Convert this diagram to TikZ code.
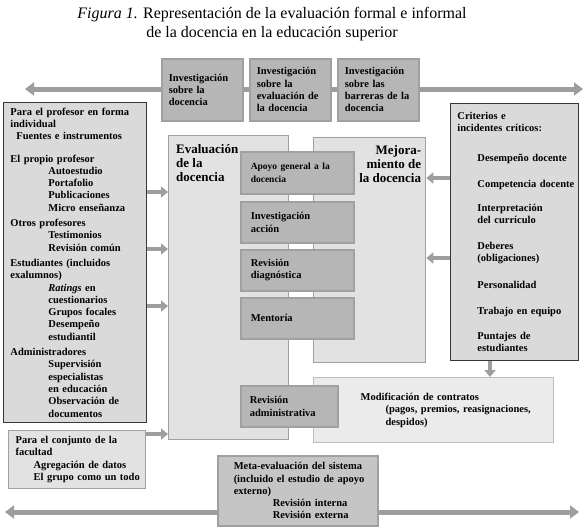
\documentclass[tikz,border=0pt]{standalone}
\usepackage{fontspec}
\setmainfont{Liberation Serif}
\usetikzlibrary{arrows.meta,positioning,calc}
\definecolor{palefill}{RGB}{226,226,226}
\definecolor{listfill}{RGB}{218,218,218}
\definecolor{midfill}{RGB}{182,182,182}
\definecolor{rim}{RGB}{160,160,160}
\definecolor{darkrim}{RGB}{55,55,55}
\definecolor{flowgray}{RGB}{158,158,158}
\newcommand{\indsub}{\hspace*{38pt}}
\newcommand{\indcrit}{\hspace*{20pt}}
\tikzset{
  boxtext/.style={font=\bfseries\fontsize{10.5}{12.3}\selectfont,align=left},
  frame/.style={boxtext,anchor=north west,inner xsep=7pt,inner ysep=2pt},
  listbox/.style={frame,draw=darkrim,fill=listfill,line width=0.9pt},
  panel/.style={frame,draw=rim,fill=palefill,line width=1.3pt},
  stepbox/.style={frame,draw=rim,fill=midfill,line width=1.5pt},
  flow/.style={flowgray,line width=4pt,-{Triangle[length=7pt,width=11pt]}},
  bigflow/.style={flowgray,line width=5pt,{Triangle[length=9pt,width=13pt]}-{Triangle[length=9pt,width=13pt]}},
  heading/.style={font=\bfseries\fontsize{13}{14}\selectfont,inner sep=0pt},
}

\begin{document}
\begin{tikzpicture}[x=1pt,y=-1pt]
  \useasboundingbox (0,0) rectangle (586,530);
  \node[font=\fontsize{16}{19}\selectfont,align=center] (title) at (272,24)
    {\textit{Figura 1.} Representación de la evaluación formal e informal\\de la docencia en la educación superior};

  % research strip on top
  \coordinate (topl) at (25,89);
  \coordinate (topr) at (583,89);
  \draw[bigflow] (topl) -- (topr);
  \node[stepbox,minimum width=81pt,minimum height=62pt,text width=67pt] (invdoc) at (161,58)
    {Investigación\\sobre la\\docencia};
  \node[stepbox,minimum width=81pt,minimum height=62pt,text width=67pt] (inveval) at (249,58)
    {Investigación\\sobre la\\evaluación de\\la docencia};
  \node[stepbox,minimum width=81pt,minimum height=62pt,text width=67pt] (invbarr) at (337,58)
    {Investigación\\sobre las\\barreras de la\\docencia};

  % meta-evaluation strip at the bottom
  \coordinate (botl) at (5,512);
  \coordinate (botr) at (579,512);
  \draw[bigflow] (botl) -- (botr);
  \node[stepbox,fill=midfill!80!white,minimum width=160pt,minimum height=70pt,text width=146pt] (meta) at (217,455)
    {\hspace*{9pt}\mbox{Meta-evaluación del sistema}\\
     \hspace*{9pt}\mbox{(incluido el estudio de apoyo}\\
     \hspace*{9pt}externo)\\
     \hspace*{48pt}Revisión interna\\
     \hspace*{48pt}Revisión externa};

  % sources
  \node[listbox,minimum width=143pt,minimum height=320pt,text width=129pt] (indiv) at (3,102)
    {\mbox{Para el profesor en forma}\\
     individual\\
     \hspace*{6pt}\mbox{Fuentes e instrumentos}\\[10pt]
     El propio profesor\\
     \indsub Autoestudio\\
     \indsub Portafolio\\
     \indsub Publicaciones\\
     \indsub\mbox{Micro enseñanza}\\[3pt]
     Otros profesores\\
     \indsub Testimonios\\
     \indsub\mbox{Revisión común}\\[3pt]
     \mbox{Estudiantes (incluidos}\\
     exalumnos)\\
     \indsub{\itshape Ratings} en\\
     \indsub cuestionarios\\
     \indsub\mbox{Grupos focales}\\
     \indsub Desempeño\\
     \indsub estudiantil\\[3pt]
     Administradores\\
     \indsub Supervisión\\
     \indsub especialistas\\
     \indsub\mbox{en educación}\\
     \indsub\mbox{Observación de}\\
     \indsub documentos};
  \node[panel,minimum width=137pt,minimum height=58pt,text width=123pt] (conj) at (8,430)
    {\mbox{Para el conjunto de la}\\
     facultad\\
     \hspace*{18pt}\mbox{Agregación de datos}\\
     \hspace*{18pt}\mbox{El grupo como un todo}};
  \node[listbox,minimum width=128pt,minimum height=257pt,text width=114pt] (crit) at (450,103)
    {Criterios e\\
     \mbox{incidentes críticos:}\\[18pt]
     \indcrit\mbox{Desempeño docente}\\[13pt]
     \indcrit\mbox{Competencia docente}\\[12pt]
     \indcrit Interpretación\\
     \indcrit\mbox{del currículo}\\[13pt]
     \indcrit Deberes\\
     \indcrit (obligaciones)\\[15pt]
     \indcrit Personalidad\\[13pt]
     \indcrit\mbox{Trabajo en equipo}\\[13pt]
     \indcrit\mbox{Puntajes de}\\
     \indcrit estudiantes};

  % the two main panels
  \node[panel,minimum width=120pt,minimum height=304pt] (eval) at (168,135) {};
  \node[panel,minimum width=112pt,minimum height=225pt] (mej) at (313,137) {};
  \node[panel,fill=palefill!70!white,draw=rim!70!white,minimum width=240pt,minimum height=65pt,text width=226pt] (modif) at (313,377)
    {\hspace*{40pt}\mbox{Modificación de contratos}\\
     \hspace*{65pt}\mbox{(pagos, premios, reasignaciones,}\\
     \hspace*{65pt}despidos)};
  \node[heading,anchor=north west,align=left] (evaltitle) at ([shift={(8pt,-9pt)}]eval.north west)
    {Evaluación\\de la\\docencia};
  \node[heading,anchor=north east,align=right] (mejtitle) at ([shift={(-5pt,-8pt)}]mej.north east)
    {Mejora-\\miento de\\la docencia};

  % shared activities
  \node[stepbox,minimum width=113pt,minimum height=42pt,text width=99pt] (apoyo) at (240,151)
    {\fontsize{9.5}{10.5}\selectfont\hspace*{3pt}\mbox{Apoyo general a la}\\\hspace*{3pt}docencia};
  \node[stepbox,minimum width=113pt,minimum height=41pt,text width=99pt] (accion) at (240,201)
    {\hspace*{3pt}Investigación\\\hspace*{3pt}acción};
  \node[stepbox,minimum width=113pt,minimum height=41pt,text width=99pt] (diag) at (240,249)
    {\hspace*{3pt}Revisión\\\hspace*{3pt}diagnóstica};
  \node[stepbox,minimum width=113pt,minimum height=41pt,text width=99pt] (mentor) at (240,297)
    {\hspace*{3pt}Mentoría};
  \node[stepbox,minimum width=97pt,minimum height=41pt,text width=83pt] (revadm) at (240,385)
    {\hspace*{2pt}Revisión\\\hspace*{2pt}administrativa};

  % connectors
  \foreach \d in {90,147,204}
    \draw[flow] ([yshift=-\d pt]indiv.north east) coordinate (s) -- (s -| eval.west);
  \draw[flow] ([yshift=-4pt]conj.north east) coordinate (s) -- (s -| eval.west);
  \foreach \d in {75,155}
    \draw[flow] ([yshift=-\d pt]crit.north west) coordinate (s) -- (s -| mej.east);
  \draw[flow] ([xshift=40pt]crit.south west) coordinate (s) -- (s |- modif.north);
\end{tikzpicture}
\end{document}
